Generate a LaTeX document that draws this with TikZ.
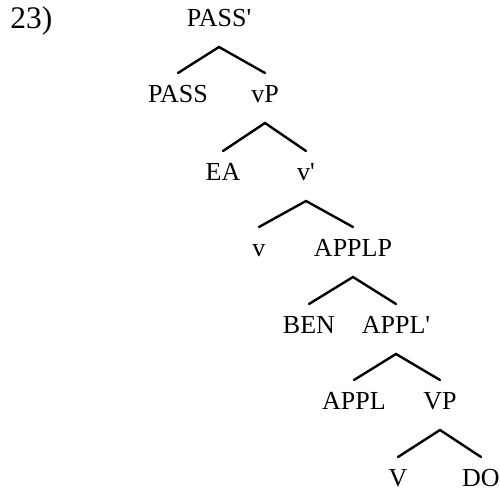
\documentclass[tikz,border=0pt]{standalone}
\usepackage{fontspec}
\setmainfont{Liberation Serif}
\begin{document}
\begin{tikzpicture}[x=0.5pt,y=-0.5pt,
  lbl/.style={anchor=base,inner sep=0pt,font=\fontsize{13}{15}\selectfont},
  branch/.style={line width=1.2pt,line cap=round}]
\useasboundingbox (0,0) rectangle (500,491);
% example number
\node[anchor=base west,inner sep=0pt,font=\fontsize{15.7}{18}\selectfont] (num) at (10,29) {23)};
% tree labels (straight prime marks)
\node[lbl] (passbar) at (219,27)  {PASS\textquotesingle};
\node[lbl] (pass)    at (178,103) {PASS};
\node[lbl] (vP)      at (265,103) {vP};
\node[lbl] (ea)      at (223,181) {EA};
\node[lbl] (vbar)    at (306,181) {v\textquotesingle};
\node[lbl] (v)       at (259,257) {v};
\node[lbl] (applp)   at (353,257) {APPLP};
\node[lbl] (ben)     at (309,334) {BEN};
\node[lbl] (applbar) at (396,334) {APPL\textquotesingle};
\node[lbl] (appl)    at (354,410) {APPL};
\node[lbl] (VP)      at (440,410) {VP};
\node[lbl] (V)       at (398,487) {V};
\node[lbl] (do)      at (481,487) {DO};
% branches: apex below the mother, ends above the daughters
\foreach \m/\a/\b in {passbar/pass/vP, vP/ea/vbar, vbar/v/applp,
                      applp/ben/applbar, applbar/appl/VP, VP/V/do}{
  \draw[branch] ([yshift=15pt]\a.base) -- ([yshift=-10pt]\m.base)
                -- ([yshift=15pt]\b.base);
}
\end{tikzpicture}
\end{document}
